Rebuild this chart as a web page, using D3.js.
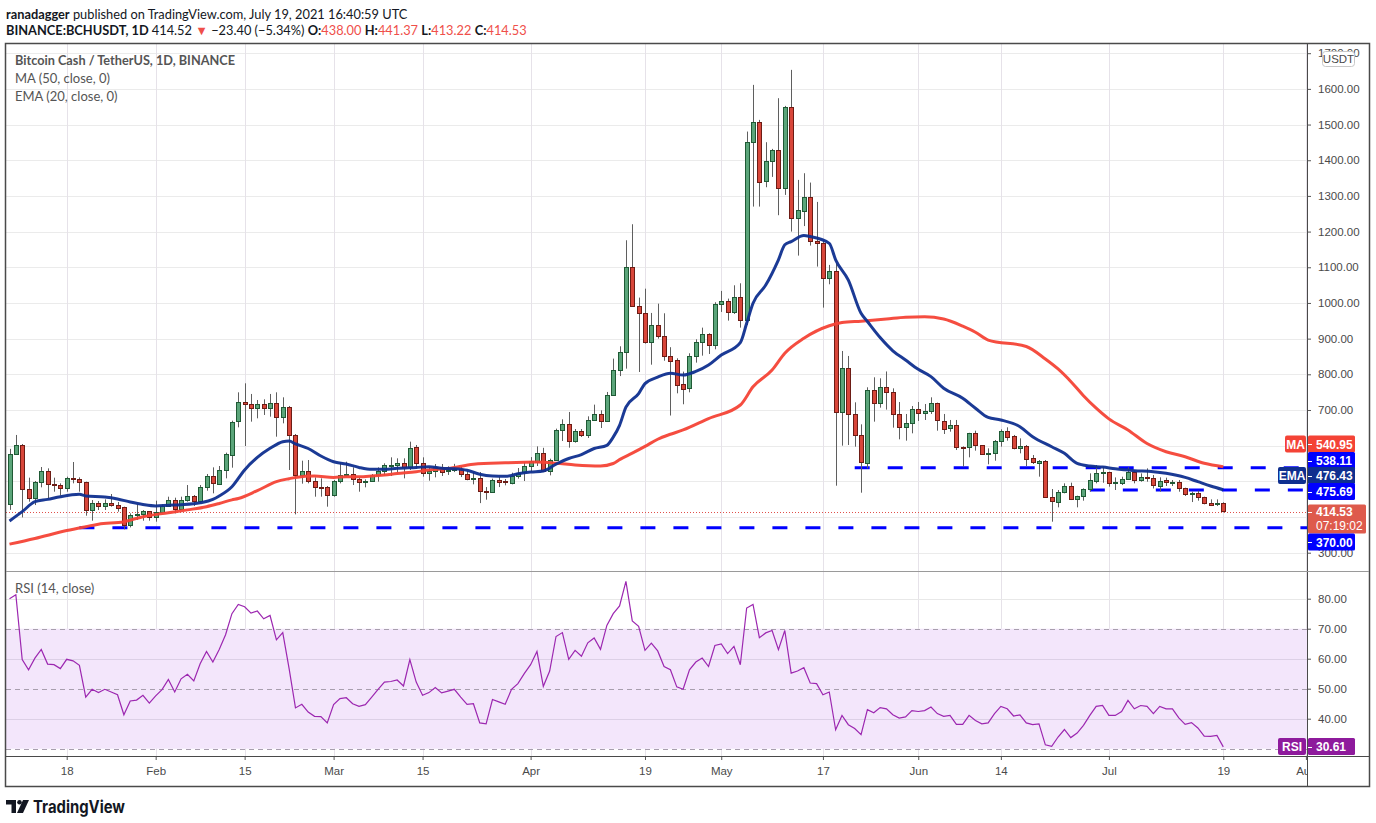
<!DOCTYPE html>
<html>
<head>
<meta charset="utf-8">
<script src="https://cdn.jsdelivr.net/npm/d3@7"></script>
<style>
  body { margin: 0; background: #fff; }
  svg { display: block; font-family: 'Liberation Sans', Arial, sans-serif; }
  .axis path { display: none; }
  .axis line { stroke: #555; }
  .axis text { fill: #4a4a4a; font-size: 11.5px; font-family: 'Liberation Sans', Arial, sans-serif; }
</style>
</head>
<body>
<svg id="chart" width="1376" height="823"></svg>
<script>
const startDay = '2021-01-09';
const endDay = '2021-07-19';

const openPrices = [
  435.5, 576, 601, 477.6, 452.3, 497.2, 528, 491.6, 488.8, 481.3,
  509.3, 505.6, 497.2, 418.7, 438.3, 429.9, 438.3, 433.6, 427.1, 376.6,
  404.7, 408.4, 415.9, 399, 413.1, 430.8, 446.7, 421.5, 446.7, 457.9,
  443, 483.2, 514, 493.5, 531.8, 575.7, 667.3, 721.5, 715.9, 704.7,
  715.9, 704.7, 719.6, 679.4, 707.5, 629, 516.8, 528, 500.9, 484.1,
  483.2, 460.7, 500.9, 516.8, 519.6, 505.6, 498.1, 500.9, 516.8, 528,
  543.9, 544.9, 550.5, 539.2, 595.3, 550.5, 522.4, 528.9, 541.1, 529,
  531, 535.5, 521.5, 507, 510.3, 474, 470.3, 504.7, 499.9, 496,
  515, 524.3, 542, 556, 580.4, 531, 560.7, 644.9, 661.7, 613,
  642, 630.8, 672.9, 689.7, 669.2, 743, 813, 863.6, 1101.9, 991.6,
  972.9, 891.6, 939.3, 908.4, 852.4, 839.3, 772.9, 760.7, 850.5, 889.7,
  912.2, 881.3, 996.3, 1004.7, 973.8, 1015.9, 952.3, 1452.4, 1508.4, 1341.1,
  1397.2, 1429, 1321.5, 1548.6, 1237.4, 1257, 1296.3, 1173.8, 1167.3, 1069.2,
  1088.8, 694.4, 816.8, 687.8, 629.9, 551.4, 755.1, 718.7, 763.6, 749.5,
  687.8, 651.4, 662.6, 701.9, 690.7, 696.3, 718.7, 670.1, 648.6, 657,
  596, 595.3, 634.6, 601, 575.7, 578.5, 612.1, 641.1, 627.1, 592.5,
  599, 564.5, 550.5, 556, 455.1, 443, 471, 486.9, 449.5, 457,
  477.6, 500.9, 523, 525, 496, 494.4, 505.6, 525.2, 502, 511.2,
  508.4, 488.8, 502.8, 496.3, 498, 480.4, 464.5, 466.4, 455.1, 438.3,
  435.5, 438
];

const highPrices = [
  591, 630, 604.7, 510.3, 501, 540.2, 536.4, 510.3, 494.4, 513.1,
  554.2, 511.2, 499.1, 447.6, 444.9, 449.5, 464.5, 442.1, 429, 410.3,
  435.5, 419.6, 416.8, 445.8, 435.5, 457, 454.2, 457, 489.7, 461.7,
  489.7, 520.6, 539.2, 543, 580.4, 670, 749.5, 774.8, 744.9, 728,
  729.9, 744.9, 749.5, 735.5, 711.2, 632.7, 557.9, 559.8, 511.2, 508.4,
  486.9, 503.7, 552.3, 555.1, 539.2, 511.2, 505.6, 520.6, 539.2, 550.5,
  567.3, 564.5, 564.5, 611.2, 601.9, 567.3, 540.2, 548.6, 548.6, 542,
  549, 542, 529, 526, 526, 484, 507.5, 512, 506.5, 524.3,
  537.4, 553, 568, 598, 594, 563.5, 647.7, 673.8, 694.4, 646.7,
  646.7, 682.2, 715, 699, 750.5, 844, 878.5, 1175.7, 1220.6, 1015,
  1040, 972, 998, 971, 876, 844.9, 807.5, 858.9, 898.1, 930.8,
  915, 1001.9, 1033.7, 1012.2, 1049.5, 1055.1, 1480.4, 1611.2, 1513.1, 1450.5,
  1431.8, 1573.9, 1552.3, 1653.3, 1344.9, 1363.6, 1337.4, 1283.2, 1176.6, 1106.6,
  1111.2, 865.4, 851.4, 721.5, 659.8, 763.6, 791.6, 788.8, 808, 760.7,
  722.4, 688.8, 711.2, 722.4, 716.8, 735.5, 720.6, 688.8, 672, 672,
  598, 636, 642, 601, 592.5, 615.9, 645.8, 651.4, 630, 620.6,
  601.9, 573.8, 559.8, 559.8, 478.5, 475.7, 494.4, 496.3, 459.8, 480.4,
  522.4, 545.8, 541, 527, 511, 513, 539.3, 530, 522.4, 536.4,
  517.8, 511.2, 510.3, 503.7, 503.7, 482.2, 471, 473.8, 457, 449.5,
  449.5, 441.37
];

const lowPrices = [
  420, 574, 399, 443, 433.6, 483.2, 452.3, 471, 459.8, 471,
  494.4, 471, 403.7, 389.7, 419.6, 419.6, 429, 415, 365.4, 371,
  391.6, 389.7, 389.7, 386.9, 410.3, 429, 410.3, 419.6, 443, 431,
  438.3, 473.8, 466.4, 489.7, 508.4, 538.3, 651.4, 599, 667.3, 676.6,
  686, 681.3, 625.2, 662.6, 531.8, 407.5, 493.5, 494.4, 457, 457,
  429, 457, 494.4, 513.1, 489.7, 471, 483.2, 499.1, 499.1, 516.8,
  514.9, 522.4, 508.4, 531.8, 536.4, 513.1, 501.9, 511.2, 514.9, 518,
  526, 512, 503, 491.6, 439, 448.6, 467.3, 484, 488.8, 491.6,
  507.5, 501, 526, 543, 526, 516.8, 557, 613, 594.4, 608.4,
  624.3, 621.5, 671, 649.5, 668, 741, 795, 815.9, 988.8, 806.5,
  886, 827, 900, 838, 684.5, 746.7, 716, 749.5, 832.7, 852.3,
  857, 870.1, 974.8, 950.5, 969.2, 930.8, 938.3, 1270.1, 1270.1, 1324.3,
  1353.3, 1245.9, 1302.8, 1200, 1132.7, 1215.5, 1160.8, 1101.9, 986.9, 1052.3,
  487.8, 600, 601.9, 597.2, 468.2, 536.4, 667.3, 706.5, 701, 650.5,
  617.8, 614, 634.6, 669.2, 672, 688.8, 642, 632.7, 639.2, 587.8,
  541.1, 567.3, 586, 573.8, 547.7, 557.9, 597.2, 614, 589.7, 578.5,
  543, 548.6, 513.1, 455, 386.9, 427.1, 466.4, 447.6, 427.1, 445.8,
  471, 494.4, 496, 485, 475.7, 489.7, 503.7, 494.4, 499, 499,
  480, 471, 487, 487, 471, 458.9, 442, 445.8, 435.5, 430.8,
  430.8, 413.22
];

const closePrices = [
  576, 601, 477.6, 452.3, 497.2, 528, 491.6, 488.8, 480.4, 508.4,
  505.6, 497.2, 418.7, 438.3, 429.9, 438.3, 431.8, 426.2, 376.6, 404.7,
  408.4, 415.9, 399, 413.1, 430.8, 446.7, 421.5, 446.7, 457.9, 443,
  483.2, 514, 493.5, 531.8, 575.7, 667.3, 721.5, 715, 704.7, 715.9,
  704.7, 719.6, 679.4, 707.5, 629, 516.8, 528, 500.9, 483.2, 482.2,
  460.7, 500.9, 516.8, 519.6, 505.6, 496.3, 500.9, 516.8, 528, 544.9,
  545.8, 550.5, 539.2, 592.5, 550.5, 522.4, 528.9, 541.1, 528, 532,
  535, 521.5, 507.5, 510, 472.9, 471, 504.7, 498, 496.3, 515,
  524.3, 542, 556, 580.4, 531, 560.7, 644.9, 661.7, 613, 642,
  630.8, 672.9, 689.7, 669.2, 743, 813, 863.6, 1101.9, 991.6, 972.9,
  891.6, 939.3, 908.4, 852.4, 838.4, 769.2, 758, 850.5, 889.7, 912.2,
  881.3, 996.3, 1004.7, 973.8, 1015.9, 952.3, 1452.4, 1508.4, 1341.1, 1397.2,
  1429, 1321.5, 1548.6, 1237.4, 1259.8, 1296.3, 1172, 1167.3, 1069.2, 1088.8,
  694.4, 816.8, 687.8, 629.9, 553.3, 755.1, 718.7, 763.6, 749.5, 687.8,
  651.4, 662.6, 701.9, 690.7, 696.3, 718.7, 670.1, 648.6, 657, 595.3,
  594.4, 634.6, 600, 575.7, 578.5, 612.1, 641.1, 625.2, 592.5, 599,
  561.7, 552.3, 556, 455.1, 443, 471, 486.9, 449.5, 458.9, 477.6,
  503.7, 522.4, 525, 494.4, 498, 505.6, 525.2, 502, 511.2, 507.5,
  488.8, 501.9, 496.3, 498, 480.4, 464.5, 466.4, 455.1, 438.3, 433.6,
  438, 414.53
];

const rsiValues = [
  80, 81.3, 59.7, 56.3, 60.2, 63.1, 58.2, 58, 56.7, 59.8,
  59.3, 57.8, 47.2, 49.8, 48.7, 49.8, 48.9, 48, 41.3, 45.9,
  46.2, 47.8, 45.2, 47.6, 49.7, 53.1, 48.9, 53.3, 54.8, 52.6,
  58.3, 62.4, 58.9, 63.1, 68, 75, 78.1, 77.3, 75.2, 75.9,
  73.3, 74.4, 66.3, 68.7, 56.7, 43.6, 44.8, 42.2, 40.8, 40.7,
  38.6, 44.7, 46.7, 47, 45, 44.1, 44.7, 47.2, 49.8, 52.2,
  52.4, 52.9, 50.9, 59.7, 52.2, 47.8, 48.7, 50.4, 48.6, 49.2,
  49.8, 47.2, 44.8, 45, 38.6, 38.3, 46.4, 45.6, 44.8, 49.8,
  51.7, 55, 58, 62.4, 50.8, 55.9, 67.4, 68.7, 59.8, 62.8,
  60.8, 65.3, 66.9, 63.1, 71.1, 75, 77.6, 85.8, 72.6, 70.8,
  62.8, 65.2, 62.6, 57.4, 56.3, 50.6, 49.8, 56.3, 58.9, 60.2,
  57.4, 64.4, 64.9, 61.7, 64.1, 58, 76.9, 78.1, 67, 68.6,
  69.4, 63, 69.4, 55.2, 55.9, 57, 51.9, 51.7, 48, 48.9,
  36.3, 41.1, 38, 36.7, 34.7, 43, 42, 43.7, 43.3, 41.3,
  40.2, 40.6, 42.7, 42.4, 42.7, 43.9, 41.7, 40.8, 41.1, 38.1,
  38.1, 41.1, 39.4, 38.3, 38.6, 41.7, 44.1, 43.3, 40.9, 41.3,
  38.6, 38, 38.3, 31.3, 30.8, 33.9, 36.4, 33.7, 35.2, 37.8,
  41.1, 44.1, 44.4, 41.1, 41.1, 42.4, 46.1, 43.3, 44.4, 44.1,
  41.7, 44.1, 43.3, 43.3, 40.3, 38.1, 38.7, 36.9, 34.2, 34.1,
  34.4, 30.61
];

// MA(50) and EMA(20) at these days
const maDays = [
  '01-09', '01-13', '01-18', '01-21', '01-23', '01-27', '01-30', '02-03', '02-06', '02-09',
  '02-11', '02-13', '02-14', '02-17', '02-20', '02-22', '02-23', '02-26', '03-01', '03-03',
  '03-05', '03-07', '03-09', '03-11', '03-14', '03-16', '03-19', '03-23', '03-28', '04-02',
  '04-05', '04-08', '04-12', '04-14', '04-15', '04-17', '04-19', '04-21', '04-23', '04-25',
  '04-29', '05-04', '05-06', '05-09', '05-11', '05-14', '05-18', '05-20', '05-23', '05-27',
  '05-30', '06-02', '06-05', '06-08', '06-10', '06-12', '06-18', '06-21', '06-23', '06-25',
  '06-27', '06-29', '07-01', '07-04', '07-07', '07-10', '07-13', '07-16', '07-19'
];
const maValues = [
  324, 340, 362, 373, 380, 387, 401, 412, 420, 429,
  438, 448, 452, 474, 499, 507.5, 511, 515, 511, 513,
  513, 515, 518, 522, 527, 532, 536, 548, 552, 554,
  551, 546, 543, 550, 561, 579, 598, 618, 632, 644,
  676, 714, 765, 812, 859, 901, 936, 945, 949, 955,
  960, 961, 955, 935, 918, 896, 878, 843, 815, 780,
  740, 705, 675, 644, 606, 583, 569, 550.5, 540.95
];

const emaDays = [
  '01-09', '01-11', '01-13', '01-15', '01-17', '01-20', '01-21', '01-24', '01-26', '01-28',
  '01-30', '02-01', '02-03', '02-05', '02-08', '02-10', '02-11', '02-13', '02-15', '02-17',
  '02-19', '02-21', '02-22', '02-23', '02-25', '02-27', '03-01', '03-03', '03-05', '03-07',
  '03-09', '03-11', '03-14', '03-16', '03-18', '03-20', '03-22', '03-24', '03-26', '03-28',
  '03-30', '04-01', '04-03', '04-05', '04-07', '04-09', '04-11', '04-13', '04-14', '04-15',
  '04-16', '04-18', '04-19', '04-21', '04-23', '04-25', '04-27', '04-29', '05-01', '05-04',
  '05-05', '05-06', '05-08', '05-10', '05-11', '05-12', '05-14', '05-15', '05-18', '05-19',
  '05-21', '05-23', '05-24', '05-26', '05-28', '05-30', '06-01', '06-03', '06-05', '06-08',
  '06-10', '06-12', '06-14', '06-17', '06-19', '06-22', '06-24', '06-26', '06-28', '06-30',
  '07-02', '07-05', '07-08', '07-10', '07-13', '07-15', '07-17', '07-19'
];
const emaValues = [
  389, 415, 443, 449.5, 457, 463.5, 459, 456, 450.5, 442,
  435, 431, 433, 434.6, 440, 449.5, 459, 485, 532, 567,
  592.5, 611, 613, 605, 592, 571, 555, 548.6, 539, 533.6,
  533.6, 536.4, 539, 541, 537, 535.5, 531, 520, 515, 514,
  521, 526, 529, 548, 564, 575, 592, 601, 624, 657,
  708, 746, 774, 792, 803, 798, 808, 826, 854, 889,
  943, 999, 1050, 1121, 1163, 1172, 1189, 1186, 1167, 1121,
  1064, 971, 948, 903, 866, 840, 814, 793.5, 761, 733,
  705, 679, 672, 653, 625, 597, 578.5, 550.5, 543, 540,
  535, 530, 527, 522.4, 511, 499, 487, 476.43
];

const levelPrices = [538.11, 475.69, 370];
const levelStarts = ['05-22', '06-28', '01-20'];

const priceTicks = d3.range(300, 1800, 100);
const rsiTicks = [40, 50, 60, 70, 80];
const tickDays = ['01-18', '02-01', '02-15', '03-01', '03-15', '04-01', '04-19', '05-01', '05-17', '06-01', '06-14', '07-01', '07-19', '08-01'];
const tickLabels = ['18', 'Feb', '15', 'Mar', '15', 'Apr', '19', 'May', '17', 'Jun', '14', 'Jul', '19', 'Aug'];

const W = 1376, H = 823;
const paneLeft = 6, paneRight = 1307, axisRight = 1369;
const mainTop = 44, mainBottom = 571, rsiTop = 572, rsiBottom = 756, xAxisBottom = 786;

const maColor = '#f44336', emaColor = '#0f2f8f', levelColor = '#0000ff';
const upFill = '#5ba57a', upLine = '#1f5a35', downFill = '#d8463a', downLine = '#6d1c15';
const rsiColor = '#9c27b0';

const parseDay = d3.utcParse('%Y-%m-%d');
const day = (s) => parseDay('2021-' + s);

const dates = d3.utcDay.range(parseDay(startDay), d3.utcDay.offset(parseDay(endDay), 1));

const x = d3.scaleUtc()
  .domain([parseDay(startDay), day('08-01')])
  .range([9.5, 1305.9]);

const y = d3.scaleLinear()
  .domain([300, 1700])
  .range([552.7, 53.2]);

const yR = d3.scaleLinear()
  .domain([30, 80])
  .range([748.7, 598.7]);

const px = (v) => Math.round(v) + 0.5;

const svg = d3.select('#chart');
svg.append('rect').attr('width', W).attr('height', H).attr('fill', '#fff');

const defs = svg.append('defs');
defs.append('clipPath').attr('id', 'clipMain')
  .append('rect').attr('x', paneLeft).attr('y', mainTop).attr('width', paneRight - paneLeft).attr('height', mainBottom - mainTop);
defs.append('clipPath').attr('id', 'clipRsi')
  .append('rect').attr('x', paneLeft).attr('y', rsiTop).attr('width', paneRight - paneLeft).attr('height', rsiBottom - rsiTop);
defs.append('clipPath').attr('id', 'clipAxis')
  .append('rect').attr('x', paneLeft).attr('y', rsiBottom).attr('width', paneRight - paneLeft).attr('height', xAxisBottom - rsiBottom);

// header
const header = svg.append('g').style('white-space', 'pre').attr('font-family', 'Lato, "Open Sans", sans-serif');
const line1 = header.append('text').attr('x', 6).attr('y', 19).attr('font-size', 12.8).attr('fill', '#131722');
line1.append('tspan').attr('font-weight', 'bold').text('ranadagger');
line1.append('tspan').text(' published on TradingView.com, July 19, 2021 16:40:59 UTC');

const red = '#ef4f4a';
const line2Parts = [
  ['BINANCE:BCHUSDT, 1D ', '#131722', 'bold'],
  ['414.52', '#131722', 'normal'],
  [' ▼ ', red, 'normal'],
  ['−23.40 (−5.34%) ', '#131722', 'normal'],
  ['O:', '#131722', 'bold'], ['438.00 ', red, 'normal'],
  ['H:', '#131722', 'bold'], ['441.37 ', red, 'normal'],
  ['L:', '#131722', 'bold'], ['413.22 ', red, 'normal'],
  ['C:', '#131722', 'bold'], ['414.53', red, 'normal'],
];
header.append('text').attr('x', 6).attr('y', 35).attr('font-size', 12.8)
  .selectAll('tspan').data(line2Parts).join('tspan')
  .attr('fill', (d) => d[1]).attr('font-weight', (d) => d[2]).text((d) => d[0]);

// grid
const grid = svg.append('g').attr('stroke', '#ebebeb').attr('stroke-width', 1);
grid.selectAll('line.h').data(priceTicks).join('line')
  .attr('x1', paneLeft).attr('x2', paneRight)
  .attr('y1', (d) => px(y(d))).attr('y2', (d) => px(y(d)))
  .attr('clip-path', 'url(#clipMain)');

// rsi band
svg.append('rect')
  .attr('x', paneLeft).attr('width', paneRight - paneLeft)
  .attr('y', yR(70)).attr('height', yR(30) - yR(70))
  .attr('fill', '#f3e6fb');

grid.selectAll('line.v').data(tickDays).join('line')
  .attr('x1', (d) => px(x(day(d)))).attr('x2', (d) => px(x(day(d))))
  .attr('y1', mainTop).attr('y2', rsiBottom)
  .attr('stroke', '#e6e2e9');

svg.append('g').selectAll('line').data([80, 60, 40]).join('line')
  .attr('x1', paneLeft).attr('x2', paneRight)
  .attr('y1', (d) => px(yR(d))).attr('y2', (d) => px(yR(d)))
  .attr('stroke', (d) => (d === 80 ? '#e8e8e8' : '#dcd0e6'));

svg.append('g').selectAll('line').data([70, 50, 30]).join('line')
  .attr('x1', paneLeft).attr('x2', paneRight)
  .attr('y1', (d) => px(yR(d))).attr('y2', (d) => px(yR(d)))
  .attr('stroke', '#a89fae').attr('stroke-dasharray', '5,4');

// main pane
const main = svg.append('g').attr('clip-path', 'url(#clipMain)');

main.append('line')
  .attr('x1', paneLeft).attr('x2', paneRight)
  .attr('y1', px(y(closePrices[closePrices.length - 1]))).attr('y2', px(y(closePrices[closePrices.length - 1])))
  .attr('stroke', '#e0504a').attr('stroke-dasharray', '1,2');

main.selectAll('line.level').data(levelPrices).join('line')
  .attr('class', 'level')
  .attr('x1', (d, i) => x(day(levelStarts[i]))).attr('x2', paneRight)
  .attr('y1', (d) => y(d)).attr('y2', (d) => y(d))
  .attr('stroke', levelColor).attr('stroke-width', 3).attr('stroke-dasharray', '15,18');

const candles = dates.map((date, i) => ({
  date, o: openPrices[i], h: highPrices[i], l: lowPrices[i], c: closePrices[i],
}));

const candle = main.selectAll('g.candle').data(candles).join('g').attr('class', 'candle');
candle.append('line')
  .attr('x1', (d) => px(x(d.date))).attr('x2', (d) => px(x(d.date)))
  .attr('y1', (d) => y(d.h)).attr('y2', (d) => y(d.l))
  .attr('stroke', '#5f5f5f');
candle.append('rect')
  .attr('x', (d) => Math.round(x(d.date)) - 1.5)
  .attr('width', 4)
  .attr('y', (d) => Math.round(y(Math.max(d.o, d.c))) + 0.5)
  .attr('height', (d) => Math.max(1, Math.round(Math.abs(y(d.o) - y(d.c)))))
  .attr('fill', (d) => (d.c >= d.o ? upFill : downFill))
  .attr('stroke', (d) => (d.c >= d.o ? upLine : downLine));

const maLine = d3.line().x((d) => x(d[0])).y((d) => y(d[1])).curve(d3.curveMonotoneX);
main.append('path')
  .datum(maDays.map((d, i) => [day(d), maValues[i]]))
  .attr('d', maLine)
  .attr('fill', 'none').attr('stroke', maColor).attr('stroke-width', 3).attr('stroke-opacity', 0.95);
main.append('path')
  .datum(emaDays.map((d, i) => [day(d), emaValues[i]]))
  .attr('d', maLine)
  .attr('fill', 'none').attr('stroke', emaColor).attr('stroke-width', 3).attr('stroke-opacity', 0.95);

// rsi pane
const rsiLine = d3.line().x((d, i) => x(dates[i])).y((d) => yR(d));
svg.append('g').attr('clip-path', 'url(#clipRsi)')
  .append('path')
  .datum(rsiValues)
  .attr('d', rsiLine)
  .attr('fill', 'none').attr('stroke', rsiColor).attr('stroke-width', 1.2);

// legends
const legend = svg.append('g').attr('font-family', 'Lato, "Open Sans", sans-serif').attr('fill', '#555').attr('font-size', 13);
legend.append('text').attr('x', 15).attr('y', 65).attr('font-weight', 'bold')
  .attr('textLength', 220).attr('lengthAdjust', 'spacingAndGlyphs').text('Bitcoin Cash / TetherUS, 1D, BINANCE');
legend.append('text').attr('x', 15).attr('y', 83).text('MA (50, close, 0)');
legend.append('text').attr('x', 15).attr('y', 101).text('EMA (20, close, 0)');
legend.append('text').attr('x', 15).attr('y', 593).text('RSI (14, close)');

// price tags on the axis
const tags = [
  { text: maValues[maValues.length - 1].toFixed(2), cy: 444, fill: maColor, name: 'MA' },
  { text: levelPrices[0].toFixed(2), cy: 460.5, fill: levelColor },
  { text: emaValues[emaValues.length - 1].toFixed(2), cy: 475.5, fill: emaColor, name: 'EMA' },
  { text: levelPrices[1].toFixed(2), cy: 491.5, fill: levelColor },
  { text: closePrices[closePrices.length - 1].toFixed(2), sub: '07:19:02', cy: 519, fill: '#de5a4c' },
  { text: levelPrices[2].toFixed(2), cy: 542, fill: levelColor },
  { text: rsiValues[rsiValues.length - 1].toFixed(2), cy: 746.5, fill: '#8e1a9c', name: 'RSI', rsi: true },
];
const tagTop = (d) => d.cy - (d.sub ? 14.5 : 8.5);
const tagBottom = (d) => d.cy + (d.sub ? 14.5 : 8.5);
// axis labels hidden under the tags, as on the original
const freeTicks = priceTicks.filter((p) => !tags.some((t) => y(p) > tagTop(t) - 4 && y(p) < tagBottom(t) - 4));

// axes
svg.append('g').attr('class', 'axis').attr('transform', `translate(${paneRight},0)`)
  .call(d3.axisRight(y).tickValues(freeTicks).tickSize(4).tickPadding(7).tickFormat(d3.format('.2f')));
svg.append('g').attr('class', 'axis').attr('transform', `translate(${paneRight},0)`)
  .call(d3.axisRight(yR).tickValues(rsiTicks).tickSize(4).tickPadding(7).tickFormat(d3.format('.2f')));
svg.append('g').attr('clip-path', 'url(#clipAxis)')
  .append('g').attr('class', 'axis').attr('transform', `translate(0,${rsiBottom})`)
  .call(d3.axisBottom(x).tickValues(tickDays.map(day)).tickSize(4).tickPadding(7).tickFormat((d, i) => tickLabels[i]));

// usdt tag
svg.append('rect').attr('x', 1322.5).attr('y', 51.5).attr('width', 32).attr('height', 15).attr('rx', 3)
  .attr('fill', '#fff').attr('stroke', '#c8c8c8');
svg.append('text').attr('x', 1338.5).attr('y', 63).attr('text-anchor', 'middle')
  .attr('font-size', 11.5).attr('fill', '#4a4a4a').text('USDT');

// frame
const frame = svg.append('g').attr('stroke', '#4a4a4a').attr('fill', 'none');
frame.append('rect').attr('x', paneLeft - 0.5).attr('y', mainTop - 0.5).attr('width', axisRight - paneLeft + 1).attr('height', xAxisBottom - mainTop + 1).attr('stroke-width', 1.5);
frame.append('line').attr('x1', paneRight + 0.5).attr('x2', paneRight + 0.5).attr('y1', mainTop).attr('y2', xAxisBottom);
frame.append('line').attr('x1', paneLeft).attr('x2', axisRight).attr('y1', mainBottom + 0.5).attr('y2', mainBottom + 0.5).attr('stroke', '#9a9a9a');
frame.append('line').attr('x1', paneLeft).attr('x2', axisRight).attr('y1', rsiBottom + 0.5).attr('y2', rsiBottom + 0.5);

const tag = svg.append('g').attr('font-size', 12).attr('font-weight', 'bold')
  .selectAll('g').data(tags).join('g');
tag.append('rect')
  .attr('x', paneRight + 1).attr('width', (d) => (d.sub ? 58 : 47))
  .attr('y', tagTop).attr('height', (d) => tagBottom(d) - tagTop(d))
  .attr('rx', 1.5).attr('fill', (d) => d.fill);
tag.append('line')
  .attr('x1', paneRight + 1).attr('x2', paneRight + 5)
  .attr('y1', (d) => px(d.cy - (d.sub ? 7 : 0))).attr('y2', (d) => px(d.cy - (d.sub ? 7 : 0)))
  .attr('stroke', '#fff');
tag.append('text')
  .attr('x', paneRight + 9).attr('y', (d) => d.cy + (d.sub ? -3 : 4.5))
  .attr('fill', '#fff').text((d) => d.text);
tag.filter((d) => d.sub).append('text')
  .attr('x', paneRight + 9).attr('y', (d) => d.cy + 11)
  .attr('fill', '#fff').attr('font-weight', 'normal').text((d) => d.sub);
const named = tag.filter((d) => d.name);
named.append('rect')
  .attr('x', (d) => paneRight - 1 - (d.name.length * 7 + 7)).attr('width', (d) => d.name.length * 7 + 7)
  .attr('y', (d) => d.cy - 8.5).attr('height', 17).attr('rx', 2).attr('fill', (d) => d.fill);
named.append('text')
  .attr('x', (d) => paneRight - 1 - (d.name.length * 7 + 7) / 2).attr('y', (d) => d.cy + 4.5)
  .attr('text-anchor', 'middle').attr('fill', '#fff').text((d) => d.name);

// logo
const logo = svg.append('g').attr('fill', '#131722');
logo.append('path').attr('d', 'M6,800 h10 v13 h-4.5 v-8.5 h-5.5 z');
logo.append('circle').attr('cx', 19.5).attr('cy', 802.3).attr('r', 2.3);
logo.append('path').attr('d', 'M23,800 h6 l-6,13 h-6 z');
logo.append('text').attr('x', 33).attr('y', 813).attr('font-family', 'Inter, Roboto, sans-serif')
  .attr('font-size', 17).attr('font-weight', 'bold')
  .attr('textLength', 92).attr('lengthAdjust', 'spacingAndGlyphs').text('TradingView');
</script>
</body>
</html>
